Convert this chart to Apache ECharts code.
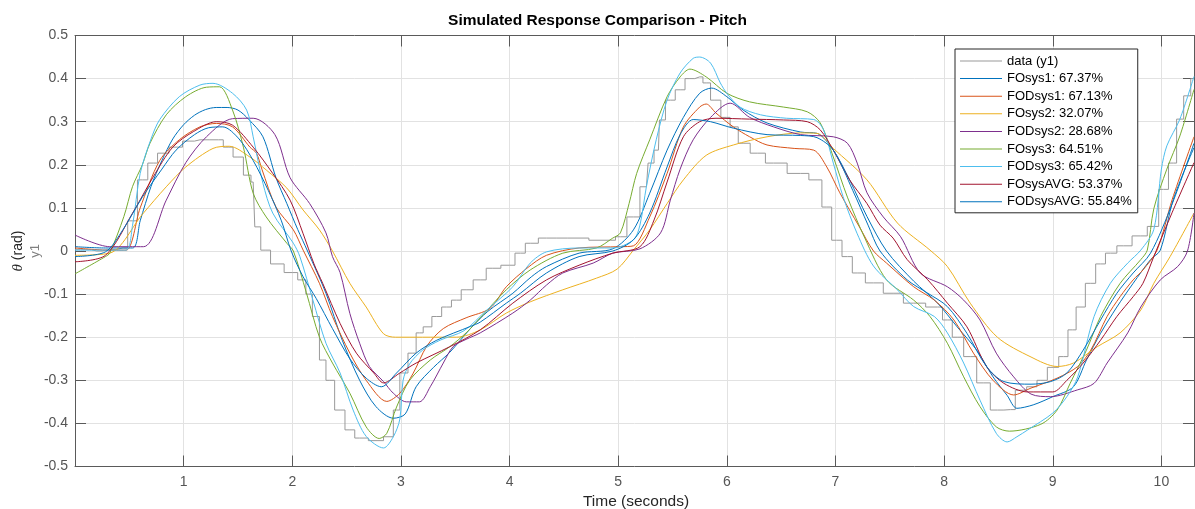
<!DOCTYPE html>
<html>
<head>
<meta charset="utf-8">
<script src="https://cdn.jsdelivr.net/npm/echarts@6/dist/echarts.min.js"></script>
<style>
html,body{margin:0;padding:0;background:#fff;}
#c{width:1195px;height:509px;}
</style>
</head>
<body>
<div id="c"></div>
<script>
// ---- data: [time (s), pitch (rad)] ----
var seriesNames = ['data (y1)','FOsys1: 67.37%','FODsys1: 67.13%','FOsys2: 32.07%','FODsys2: 28.68%','FOsys3: 64.51%','FODsys3: 65.42%','FOsysAVG: 53.37%','FODsysAVG: 55.84%'];

var dataY1 = [[0,0.003],[0.1,0.003],[0.2,0.0],[0.3,0.003],[0.44,0.007],[0.53,0.07],[0.62,0.165],[0.72,0.204],[0.8,0.227],[0.93,0.241],[1.05,0.255],[1.15,0.258],[1.32,0.258],[1.41,0.241],[1.5,0.218],[1.6,0.176],[1.64,0.16],[1.67,0.056],[1.75,0.002],[1.85,-0.03],[2.0,-0.05],[2.1,-0.067],[2.15,-0.1],[2.22,-0.152],[2.28,-0.253],[2.34,-0.3],[2.44,-0.369],[2.53,-0.415],[2.62,-0.434],[2.78,-0.44],[2.9,-0.431],[2.96,-0.369],[3.02,-0.283],[3.11,-0.237],[3.17,-0.19],[3.24,-0.176],[3.33,-0.152],[3.42,-0.13],[3.51,-0.114],[3.6,-0.09],[3.73,-0.067],[3.84,-0.04],[4.0,-0.033],[4.1,-0.005],[4.19,0.018],[4.34,0.03],[4.53,0.03],[4.93,0.025],[5.02,0.033],[5.14,0.079],[5.26,0.149],[5.29,0.204],[5.37,0.234],[5.39,0.304],[5.48,0.35],[5.57,0.374],[5.66,0.4],[5.75,0.404],[5.81,0.39],[5.89,0.35],[6.0,0.31],[6.06,0.288],[6.15,0.25],[6.28,0.227],[6.43,0.204],[6.68,0.18],[6.83,0.165],[6.92,0.102],[7.01,0.025],[7.11,-0.013],[7.2,-0.051],[7.35,-0.074],[7.53,-0.098],[7.72,-0.121],[7.94,-0.13],[8.03,-0.16],[8.12,-0.2],[8.24,-0.245],[8.36,-0.306],[8.49,-0.369],[8.61,-0.368],[8.7,-0.323],[8.82,-0.315],[8.89,-0.3],[9.01,-0.27],[9.1,-0.245],[9.18,-0.183],[9.25,-0.13],[9.35,-0.075],[9.44,-0.03],[9.53,-0.005],[9.65,0.012],[9.81,0.035],[9.93,0.057],[10.02,0.143],[10.11,0.204],[10.17,0.306],[10.24,0.36],[10.3,0.4]];

var foSys1 = [[0,0.01],[0.28,0.007],[0.53,0.007],[0.6,0.07],[0.7,0.15],[0.8,0.21],[0.9,0.26],[1.0,0.293],[1.1,0.315],[1.2,0.328],[1.3,0.333],[1.4,0.333],[1.5,0.327],[1.6,0.305],[1.73,0.265],[1.85,0.17],[1.95,0.11],[2.05,0.05],[2.14,0.0],[2.31,-0.098],[2.46,-0.207],[2.62,-0.3],[2.77,-0.361],[2.93,-0.388],[3.04,-0.378],[3.14,-0.315],[3.3,-0.27],[3.45,-0.235],[3.64,-0.18],[3.8,-0.14],[4.03,-0.098],[4.2,-0.06],[4.34,-0.036],[4.64,-0.005],[4.95,0.005],[5.14,0.049],[5.29,0.134],[5.45,0.234],[5.6,0.31],[5.75,0.366],[5.86,0.378],[6.0,0.358],[6.15,0.327],[6.37,0.297],[6.68,0.276],[6.83,0.273],[6.98,0.234],[7.13,0.165],[7.29,0.08],[7.47,0.0],[7.72,-0.07],[7.94,-0.121],[8.12,-0.176],[8.3,-0.23],[8.45,-0.292],[8.58,-0.335],[8.67,-0.365],[8.82,-0.357],[9.0,-0.338],[9.19,-0.315],[9.31,-0.253],[9.44,-0.191],[9.59,-0.13],[9.74,-0.075],[9.9,-0.02],[9.99,0.002],[10.11,0.12],[10.3,0.24]];

var fodSys1 = [[0,0.007],[0.32,0.002],[0.47,0.002],[0.6,0.1],[0.78,0.21],[0.96,0.258],[1.15,0.288],[1.3,0.296],[1.45,0.288],[1.61,0.241],[1.67,0.227],[1.72,0.19],[1.85,0.102],[2.01,0.049],[2.1,0.002],[2.25,-0.075],[2.37,-0.152],[2.53,-0.237],[2.68,-0.3],[2.87,-0.349],[2.99,-0.33],[3.11,-0.285],[3.24,-0.22],[3.39,-0.18],[3.6,-0.155],[3.82,-0.133],[3.97,-0.083],[4.16,-0.04],[4.34,-0.01],[4.64,0.007],[5.02,0.01],[5.14,0.012],[5.29,0.079],[5.45,0.18],[5.6,0.288],[5.75,0.334],[5.81,0.341],[5.9,0.32],[6.06,0.288],[6.21,0.265],[6.37,0.246],[6.62,0.238],[6.8,0.234],[6.92,0.195],[7.04,0.135],[7.22,0.056],[7.35,0.0],[7.47,-0.028],[7.72,-0.083],[7.91,-0.114],[8.09,-0.16],[8.27,-0.237],[8.45,-0.3],[8.64,-0.334],[8.8,-0.318],[9.04,-0.295],[9.23,-0.268],[9.35,-0.23],[9.5,-0.152],[9.62,-0.106],[9.74,-0.067],[9.83,-0.044],[9.96,0.002],[10.1,0.12],[10.3,0.265]];

var foSys2 = [[0,-0.01],[0.32,-0.005],[0.62,0.085],[0.84,0.149],[1.02,0.195],[1.27,0.238],[1.42,0.243],[1.61,0.218],[1.76,0.188],[1.95,0.146],[2.1,0.095],[2.25,0.049],[2.37,0.0],[2.53,-0.075],[2.68,-0.13],[2.84,-0.192],[2.95,-0.2],[3.2,-0.2],[3.51,-0.2],[3.73,-0.183],[3.97,-0.144],[4.19,-0.118],[4.49,-0.09],[4.8,-0.063],[4.99,-0.042],[5.14,0.002],[5.29,0.049],[5.45,0.11],[5.6,0.165],[5.81,0.222],[6.06,0.246],[6.37,0.265],[6.68,0.274],[6.83,0.273],[6.98,0.238],[7.29,0.165],[7.57,0.065],[7.87,0.002],[8.03,-0.036],[8.24,-0.121],[8.49,-0.2],[8.8,-0.246],[9.04,-0.268],[9.19,-0.26],[9.41,-0.222],[9.62,-0.19],[9.81,-0.137],[9.93,-0.075],[10.08,-0.013],[10.3,0.088]];

var fodSys2 = [[0,0.037],[0.32,0.01],[0.63,0.01],[0.84,0.118],[1.02,0.205],[1.21,0.265],[1.45,0.307],[1.64,0.308],[1.84,0.27],[1.98,0.17],[2.16,0.11],[2.31,0.042],[2.37,-0.013],[2.44,-0.05],[2.53,-0.145],[2.62,-0.214],[2.71,-0.268],[2.84,-0.303],[2.93,-0.33],[3.05,-0.35],[3.17,-0.35],[3.27,-0.315],[3.39,-0.26],[3.48,-0.222],[3.6,-0.205],[3.73,-0.19],[4.03,-0.144],[4.19,-0.114],[4.34,-0.079],[4.49,-0.051],[4.77,-0.028],[4.95,-0.005],[5.2,0.005],[5.39,0.042],[5.48,0.118],[5.57,0.19],[5.69,0.258],[5.85,0.31],[6.03,0.343],[6.21,0.31],[6.43,0.288],[6.68,0.27],[6.98,0.265],[7.11,0.25],[7.2,0.204],[7.29,0.135],[7.44,0.079],[7.6,0.033],[7.78,-0.051],[8.03,-0.083],[8.18,-0.114],[8.33,-0.16],[8.48,-0.237],[8.64,-0.292],[8.8,-0.332],[8.98,-0.338],[9.23,-0.322],[9.38,-0.307],[9.5,-0.26],[9.69,-0.19],[9.81,-0.13],[9.99,-0.067],[10.15,-0.036],[10.24,0.0],[10.3,0.088]];

var foSys3 = [[0,-0.053],[0.28,-0.013],[0.32,-0.005],[0.45,0.08],[0.53,0.15],[0.62,0.2],[0.69,0.25],[0.84,0.316],[1.02,0.358],[1.21,0.38],[1.33,0.381],[1.45,0.327],[1.55,0.241],[1.64,0.134],[1.76,0.079],[1.95,0.018],[2.01,0.0],[2.13,-0.097],[2.25,-0.2],[2.37,-0.26],[2.53,-0.33],[2.68,-0.408],[2.8,-0.435],[2.87,-0.423],[2.96,-0.362],[3.08,-0.3],[3.27,-0.253],[3.45,-0.222],[3.6,-0.19],[3.73,-0.155],[3.97,-0.09],[4.19,-0.044],[4.49,-0.005],[4.8,0.007],[4.95,0.03],[5.02,0.042],[5.1,0.11],[5.17,0.18],[5.29,0.258],[5.45,0.358],[5.57,0.404],[5.66,0.422],[5.81,0.404],[6.0,0.366],[6.21,0.346],[6.52,0.334],[6.74,0.323],[6.86,0.297],[6.98,0.218],[7.11,0.125],[7.27,0.03],[7.47,-0.067],[7.72,-0.114],[7.87,-0.152],[8.03,-0.214],[8.18,-0.292],[8.33,-0.361],[8.48,-0.408],[8.6,-0.418],[8.89,-0.402],[9.04,-0.369],[9.16,-0.307],[9.31,-0.23],[9.44,-0.152],[9.62,-0.075],[9.81,-0.02],[9.87,0.002],[9.93,0.098],[10.05,0.19],[10.17,0.267],[10.3,0.375]];

var fodSys3 = [[0,0.002],[0.28,0.002],[0.47,0.002],[0.53,0.06],[0.6,0.18],[0.7,0.26],[0.78,0.305],[0.96,0.358],[1.15,0.385],[1.27,0.389],[1.45,0.366],[1.58,0.327],[1.64,0.265],[1.73,0.157],[1.82,0.088],[2.01,0.018],[2.07,-0.013],[2.19,-0.114],[2.31,-0.214],[2.44,-0.283],[2.56,-0.369],[2.68,-0.43],[2.84,-0.457],[2.93,-0.431],[2.99,-0.39],[3.02,-0.3],[3.08,-0.262],[3.2,-0.23],[3.36,-0.207],[3.58,-0.185],[3.79,-0.137],[4.03,-0.083],[4.19,-0.028],[4.34,-0.002],[4.64,0.007],[4.95,0.007],[5.14,0.026],[5.2,0.06],[5.26,0.15],[5.35,0.258],[5.45,0.35],[5.57,0.413],[5.69,0.447],[5.75,0.45],[5.85,0.436],[5.94,0.39],[6.0,0.366],[6.12,0.334],[6.31,0.316],[6.55,0.308],[6.8,0.305],[6.89,0.281],[6.98,0.204],[7.07,0.126],[7.2,0.04],[7.35,-0.035],[7.57,-0.09],[7.72,-0.129],[7.91,-0.152],[8.03,-0.19],[8.18,-0.26],[8.33,-0.346],[8.48,-0.423],[8.58,-0.443],[8.67,-0.431],[8.77,-0.415],[9.0,-0.376],[9.13,-0.338],[9.23,-0.292],[9.38,-0.152],[9.53,-0.075],[9.69,-0.028],[9.81,0.002],[9.93,0.05],[10.0,0.19],[10.05,0.244],[10.17,0.306],[10.3,0.405]];

var foSysAvg = [[0,-0.025],[0.28,-0.01],[0.53,0.088],[0.72,0.172],[0.9,0.241],[1.09,0.277],[1.3,0.3],[1.45,0.292],[1.64,0.241],[1.82,0.18],[1.98,0.118],[2.1,0.04],[2.2,-0.03],[2.28,-0.075],[2.44,-0.168],[2.59,-0.237],[2.75,-0.283],[2.84,-0.306],[2.99,-0.283],[3.14,-0.26],[3.45,-0.222],[3.73,-0.183],[4.03,-0.121],[4.34,-0.067],[4.64,-0.033],[4.95,-0.005],[5.2,0.01],[5.33,0.072],[5.45,0.16],[5.6,0.265],[5.75,0.3],[5.9,0.308],[6.21,0.306],[6.52,0.304],[6.74,0.3],[6.86,0.281],[6.98,0.234],[7.13,0.165],[7.29,0.11],[7.41,0.06],[7.53,0.03],[7.66,-0.02],[7.85,-0.067],[8.03,-0.121],[8.21,-0.176],[8.39,-0.268],[8.55,-0.307],[8.77,-0.327],[9.0,-0.327],[9.13,-0.3],[9.28,-0.26],[9.44,-0.207],[9.59,-0.152],[9.74,-0.106],[9.83,-0.075],[9.93,-0.013],[10.1,0.09],[10.3,0.205]];

var fodSysAvg = [[0,-0.013],[0.28,-0.002],[0.44,0.049],[0.62,0.125],[0.8,0.19],[0.93,0.234],[1.1,0.27],[1.23,0.286],[1.36,0.288],[1.51,0.26],[1.64,0.21],[1.78,0.14],[1.9,0.07],[1.99,0.0],[2.1,-0.06],[2.22,-0.11],[2.37,-0.18],[2.53,-0.25],[2.68,-0.295],[2.82,-0.315],[2.96,-0.283],[3.14,-0.237],[3.33,-0.207],[3.64,-0.175],[3.73,-0.165],[3.97,-0.121],[4.1,-0.098],[4.34,-0.051],[4.64,-0.013],[4.95,0.0],[5.14,0.026],[5.29,0.088],[5.45,0.195],[5.57,0.27],[5.69,0.305],[5.85,0.3],[6.06,0.285],[6.37,0.27],[6.68,0.268],[6.83,0.263],[6.98,0.234],[7.16,0.14],[7.3,0.06],[7.41,0.0],[7.66,-0.067],[7.85,-0.098],[8.03,-0.129],[8.21,-0.191],[8.39,-0.268],[8.55,-0.303],[8.8,-0.309],[8.98,-0.303],[9.13,-0.283],[9.28,-0.23],[9.44,-0.16],[9.59,-0.098],[9.74,-0.051],[9.9,-0.005],[10.1,0.11],[10.3,0.25]];

var seriesData = [dataY1, foSys1, fodSys1, foSys2, fodSys2, foSys3, fodSys3, foSysAvg, fodSysAvg];
var seriesColors = ['#999999','#0072BD','#D95319','#EDB120','#7E2F8E','#77AC30','#4DBEEE','#A2142F','#0072BD'];

var chart = echarts.init(document.getElementById('c'), null, {renderer:'canvas'});
var FONT = '"Liberation Sans", Arial, Helvetica, sans-serif';
var gridLine = {show:true, lineStyle:{color:'#e2e2e2', width:1}};
var boxLine = {show:true, onZero:false, lineStyle:{color:'#5a5a5a', width:1}};
var tickIn = {show:true, inside:true, length:11, lineStyle:{color:'#5a5a5a', width:1}};

var series = seriesNames.map(function(n, i){
  return {
    name: n, type:'line', data: seriesData[i], symbol:'none', showSymbol:false,
    smooth: i === 0 ? false : 0.3,
    step: i === 0 ? 'middle' : false,
    lineStyle:{color: seriesColors[i], width:1},
    itemStyle:{color: seriesColors[i]},
    z: 2 + (i===0?0:1), animation:false, clip:true
  };
});

chart.setOption({
  animation:false,
  backgroundColor:'#ffffff',
  title:{text:'Simulated Response Comparison - Pitch', left:'center', top:8, textStyle:{fontFamily:FONT, fontSize:15.5, fontWeight:'bold', color:'#000'}},
  grid:{left:75, right:1, top:35.5, bottom:42.5, containLabel:false},
  legend:{
    orient:'vertical', left:955, top:49, data: seriesNames,
    backgroundColor:'#ffffff', borderColor:'#262626', borderWidth:1,
    padding:[5,6,4,5], itemWidth:42, itemHeight:14, itemGap:3.6,
    textStyle:{fontFamily:FONT, fontSize:13, color:'#000', lineHeight:14},
    icon:'path://M0,0L42,0L42,1L0,1Z',
    selectedMode:false, z:10
  },
  xAxis:[
    {type:'value', min:0, max:10.3, interval:1, position:'bottom',
     axisLine:boxLine, axisTick:tickIn, splitLine:gridLine,
     axisLabel:{show:true, showMinLabel:false, showMaxLabel:false, margin:9, color:'#555', fontFamily:FONT, fontSize:14,
       formatter:function(v){return String(Math.round(v));}}},
    {type:'value', min:0, max:10.3, interval:1, position:'top',
     axisLine:boxLine, axisTick:tickIn, splitLine:{show:false}, axisLabel:{show:false}}
  ],
  yAxis:[
    {type:'value', min:-0.5, max:0.5, interval:0.1, position:'left',
     axisLine:boxLine, axisTick:tickIn, splitLine:gridLine,
     axisLabel:{margin:7, color:'#555', fontFamily:FONT, fontSize:14,
       formatter:function(v){var r=Math.round(v*10)/10; return r===0?'0':r.toFixed(1);}}},
    {type:'value', min:-0.5, max:0.5, interval:0.1, position:'right',
     axisLine:boxLine, axisTick:tickIn, splitLine:{show:false}, axisLabel:{show:false}}
  ],
  graphic:[
    {type:'text', x:18, y:251, rotation:Math.PI/2, style:{
      text:'{i|θ} (rad)', textAlign:'center', textVerticalAlign:'middle', fill:'#262626',
      font:'14px '+FONT,
      rich:{i:{fontStyle:'italic', fontFamily:'"Liberation Serif", serif', fontSize:15, fill:'#262626'}}}},
    {type:'text', x:35, y:251, rotation:Math.PI/2, style:{
      text:'y1', textAlign:'center', textVerticalAlign:'middle', fill:'#808080', font:'13px '+FONT}},
    {type:'text', x:636, y:502, style:{
      text:'Time (seconds)', textAlign:'center', textVerticalAlign:'middle', fill:'#262626', font:'15.5px '+FONT}}
  ],
  series: series
});
</script>
</body>
</html>
